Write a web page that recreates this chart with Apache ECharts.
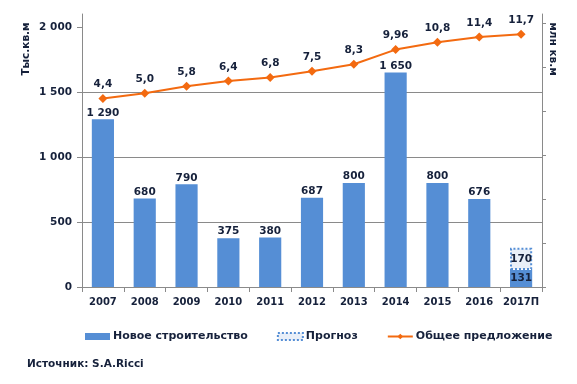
<!DOCTYPE html>
<html><head><meta charset="utf-8">
<script src="https://cdn.jsdelivr.net/npm/echarts@6/dist/echarts.min.js"></script>
<style>html,body{margin:0;padding:0;background:#fff}#c{width:577px;height:384px}</style>
</head><body><div id="c"></div>
<script>
var categories = ['2007','2008','2009','2010','2011','2012','2013','2014','2015','2016','2017П'];
var newConstruction = [1290, 680, 790, 375, 380, 687, 800, 1650, 800, 676, 131];
var forecast = [null, null, null, null, null, null, null, null, null, null, 170];
var totalSupply = [4.4, 5.0, 5.8, 6.4, 6.8, 7.5, 8.3, 9.96, 10.8, 11.4, 11.7];
var totalSupplyLabels = ['4,4','5,0','5,8','6,4','6,8','7,5','8,3','9,96','10,8','11,4','11,7'];
var leftTicks = [0, 500, 1000, 1500, 2000];
var rightTicks = [0, 1, 2, 3, 4, 5, 6];

var TXT = '#16213b';
var GRID = '#8a8a8a';
var FONT = 'DejaVu Sans';
function fmt(v){ return String(v).replace(/\B(?=(\d{3})+$)/g, ' '); }

var chart = echarts.init(document.getElementById('c'), null, {renderer:'canvas'});
chart.setOption({
  animation: false,
  textStyle: {fontFamily: FONT},
  grid: {left: 82, right: 35, top: 14, bottom: 97},
  legend: {
    left: 80, top: 326, itemGap: 29, itemWidth: 25, itemHeight: 7,
    textStyle: {fontFamily: FONT, fontWeight: 'bold', fontSize: 11, color: TXT, padding: [0,0,0,-2]},
    data: [
      {name: 'Новое строительство', icon: 'rect'},
      {name: 'Прогноз', icon: 'rect', itemStyle: {color: '#e9eff8', borderColor: '#558ed5', borderWidth: 2, borderType: [2, 2]}},
      {name: 'Общее предложение'}
    ]
  },
  xAxis: {
    type: 'category', data: categories,
    axisLine: {lineStyle: {color: GRID, width: 1}},
    axisTick: {show: true, length: 5, lineStyle: {color: GRID}},
    axisLabel: {interval: 0, color: TXT, fontWeight: 'bold', fontSize: 10, fontFamily: FONT, margin: 10}
  },
  yAxis: [
    {
      type: 'value', min: 0, max: 2100, interval: 500,
      axisLine: {show: true, lineStyle: {color: GRID}},
      axisTick: {show: true, length: 5, lineStyle: {color: GRID}, customValues: leftTicks},
      axisLabel: {color: TXT, fontWeight: 'bold', fontSize: 10.5, fontFamily: FONT, margin: 10,
        formatter: fmt, customValues: leftTicks},
      splitLine: {show: true, showMaxLine: false, lineStyle: {color: GRID, width: 1}}
    },
    {
      type: 'value', position: 'right', min: 0, max: 6.2045, interval: 1,
      axisLine: {show: true, lineStyle: {color: GRID}},
      axisTick: {show: true, length: 4, lineStyle: {color: GRID}, customValues: rightTicks},
      axisLabel: {show: false},
      splitLine: {show: false}
    },
    {
      type: 'value', position: 'right', min: -17, max: 14, show: false,
      splitLine: {show: false}
    }
  ],
  graphic: [
    {type: 'text', x: 26, y: 49, rotation: Math.PI/2,
      style: {text: 'Тыс.кв.м', fill: TXT, font: 'bold 10.5px ' + FONT, align: 'center', verticalAlign: 'middle'}},
    {type: 'text', x: 553, y: 49, rotation: -Math.PI/2,
      style: {text: 'млн кв.м', fill: TXT, font: 'bold 10.5px ' + FONT, align: 'center', verticalAlign: 'middle'}},
    {type: 'text', x: 27, y: 364,
      style: {text: 'Источник: S.A.Ricci', fill: TXT, font: 'bold 10.5px ' + FONT, align: 'left', verticalAlign: 'middle'}}
  ],
  series: [
    {
      name: 'Новое строительство', type: 'bar', stack: 'a', barWidth: '53%',
      yAxisIndex: 0,
      itemStyle: {color: '#558ed5'},
      label: {show: true, position: 'top', distance: 1, color: TXT, fontWeight: 'bold', fontSize: 10.5, fontFamily: FONT,
        formatter: function(p){ return fmt(p.value); }},
      data: newConstruction.map(function(v, i){
        return i === newConstruction.length - 1 ? {value: v, label: {position: 'inside'}} : v;
      })
    },
    {
      name: 'Прогноз', type: 'bar', stack: 'a', barWidth: '53%',
      yAxisIndex: 0,
      itemStyle: {color: '#e9eff8', borderColor: '#558ed5', borderWidth: 2, borderType: [2, 2]},
      label: {show: true, position: 'inside', color: TXT, fontWeight: 'bold', fontSize: 10.5, fontFamily: FONT},
      data: forecast
    },
    {
      name: 'Общее предложение', type: 'line', yAxisIndex: 2,
      symbol: 'diamond', symbolSize: 9,
      lineStyle: {color: '#f36a10', width: 2},
      itemStyle: {color: '#f36a10'},
      label: {show: true, position: 'top', distance: 4, color: TXT, fontWeight: 'bold', fontSize: 10.5, fontFamily: FONT,
        formatter: function(p){ return totalSupplyLabels[p.dataIndex]; }},
      data: totalSupply
    }
  ]
});
</script></body></html>
